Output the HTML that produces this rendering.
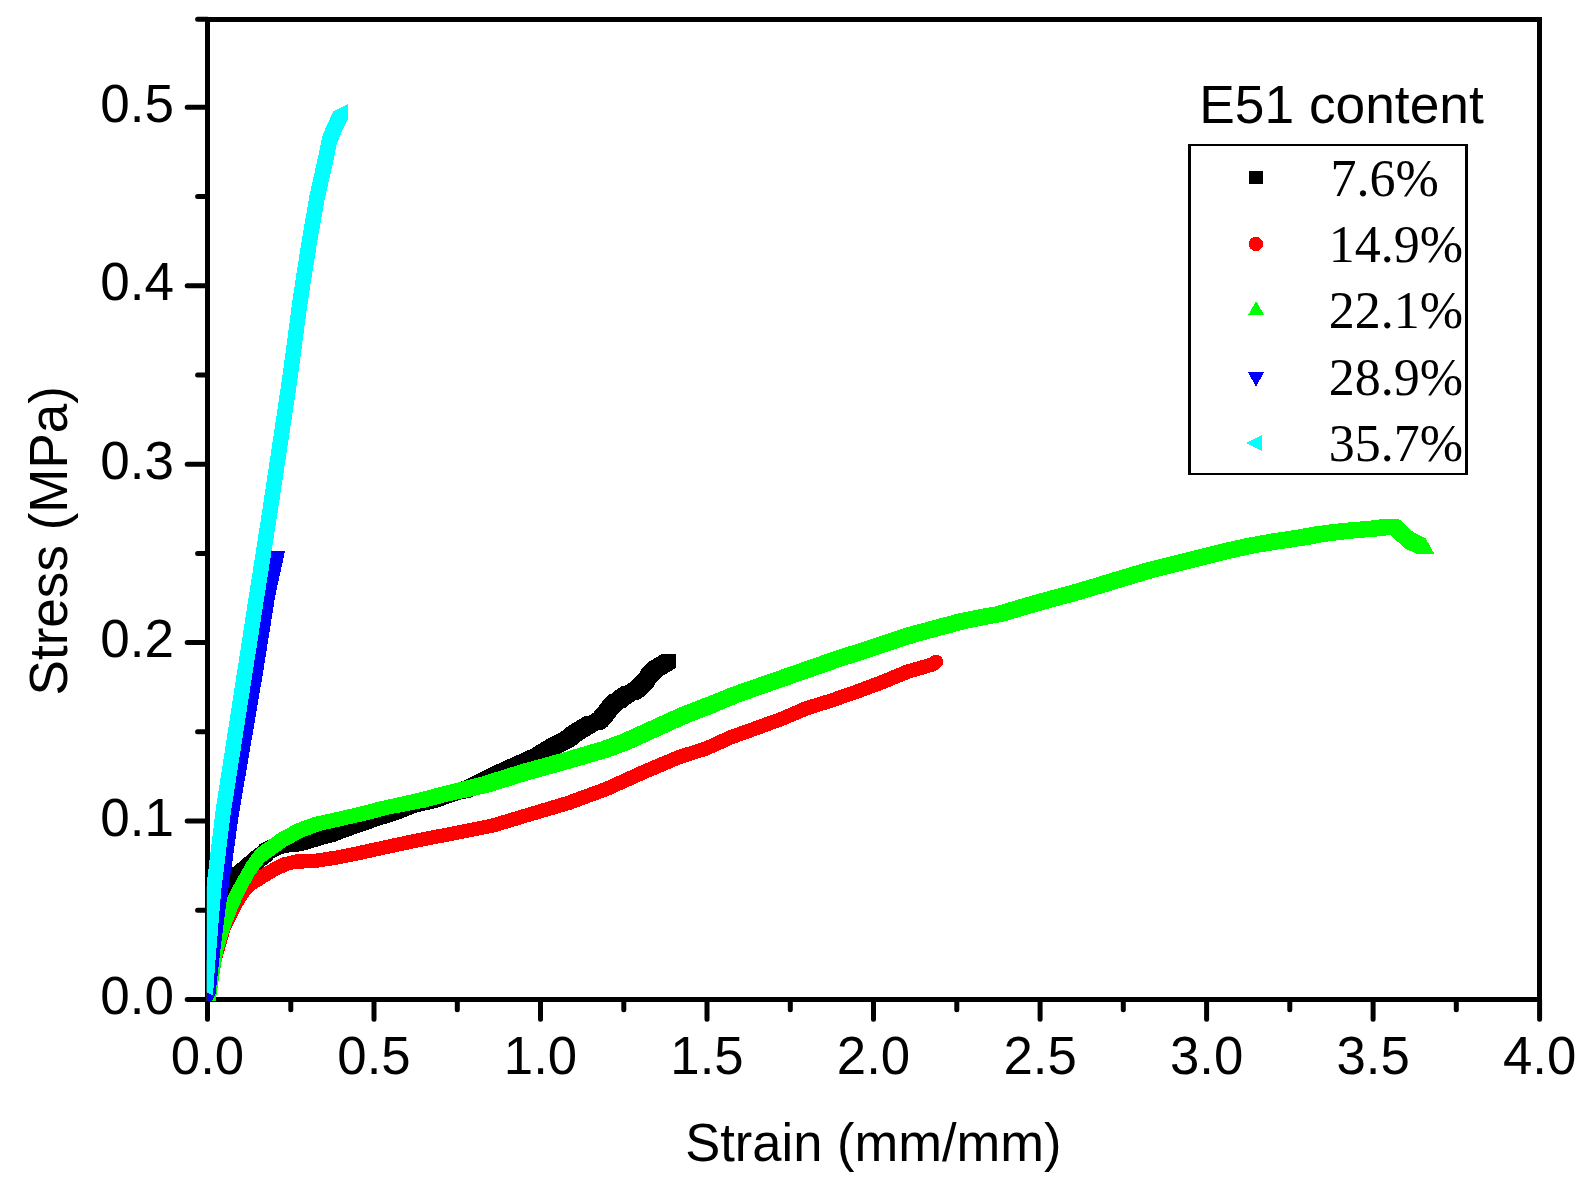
<!DOCTYPE html>
<html><head><meta charset="utf-8"><title>Stress-strain</title>
<style>html,body{margin:0;padding:0;background:#fff}svg{display:block}text{font-family:"Liberation Sans",Arial,sans-serif;font-size:52px;fill:#000}.s{font-family:"Liberation Serif","Times New Roman",serif}</style></head>
<body>
<svg width="1589" height="1192" viewBox="0 0 1589 1192">
<rect width="1589" height="1192" fill="#fff"/>
<g stroke="#000" stroke-width="5" fill="none" stroke-linecap="butt" shape-rendering="crispEdges">
<path d="M207.5,16.8 V1002.0 M1539.6,16.8 V1002.0 M207.5,19.3 H1539.6 M207.5,999.5 H1539.6"/>
</g>
<g stroke="#000" stroke-width="5" fill="none" stroke-linecap="round">
<path d="M207.5,999.5V1019.2M374.0,999.5V1019.2M540.5,999.5V1019.2M707.0,999.5V1019.2M873.5,999.5V1019.2M1040.1,999.5V1019.2M1206.6,999.5V1019.2M1373.1,999.5V1019.2M1539.6,999.5V1019.2M290.8,999.5V1009.8M457.3,999.5V1009.8M623.8,999.5V1009.8M790.3,999.5V1009.8M956.8,999.5V1009.8M1123.3,999.5V1009.8M1289.8,999.5V1009.8M1456.3,999.5V1009.8M207.5,999.5H187.2M207.5,821.1H187.2M207.5,642.6H187.2M207.5,464.2H187.2M207.5,285.7H187.2M207.5,107.3H187.2M207.5,910.3H197.6M207.5,731.8H197.6M207.5,553.4H197.6M207.5,375.0H197.6M207.5,196.5H197.6M207.5,19.3H197.6"/>
</g>
<g text-anchor="middle">
<text transform="translate(207.5,1074) scale(1.015,1.045)">0.0</text><text transform="translate(374.0,1074) scale(1.015,1.045)">0.5</text><text transform="translate(540.5,1074) scale(1.015,1.045)">1.0</text><text transform="translate(707.0,1074) scale(1.015,1.045)">1.5</text><text transform="translate(873.5,1074) scale(1.015,1.045)">2.0</text><text transform="translate(1040.1,1074) scale(1.015,1.045)">2.5</text><text transform="translate(1206.6,1074) scale(1.015,1.045)">3.0</text><text transform="translate(1373.1,1074) scale(1.015,1.045)">3.5</text><text transform="translate(1539.6,1074) scale(1.015,1.045)">4.0</text>
</g>
<g text-anchor="end">
<text transform="translate(174,1014.1) scale(1.02,1.045)">0.0</text><text transform="translate(174,835.7) scale(1.02,1.045)">0.1</text><text transform="translate(174,657.2) scale(1.02,1.045)">0.2</text><text transform="translate(174,478.8) scale(1.02,1.045)">0.3</text><text transform="translate(174,300.3) scale(1.02,1.045)">0.4</text><text transform="translate(174,121.9) scale(1.02,1.045)">0.5</text>
</g>
<text transform="translate(873.4,1161) scale(1.01,1.03)" text-anchor="middle">Strain (mm/mm)</text>
<text transform="translate(66.8,540.7) rotate(-90) scale(1.02,1.03)" text-anchor="middle">Stress (MPa)</text>
<defs><clipPath id="cp"><rect x="206.8" y="19" width="1333" height="982"/></clipPath></defs>
<g clip-path="url(#cp)" shape-rendering="crispEdges">
<path fill="#000" d="M200.5,992.5 205.0,953.0 219.0,953.0 219.0,967.0 214.5,1006.5 200.5,1006.5ZM205.0,953.0 211.0,918.0 225.0,918.0 225.0,932.0 219.0,967.0 205.0,967.0ZM211.0,918.0 217.0,896.0 231.0,896.0 231.0,910.0 225.0,932.0 211.0,932.0ZM217.0,896.0 223.0,881.0 237.0,881.0 237.0,895.0 231.0,910.0 217.0,910.0ZM223.0,881.0 227.0,873.0 241.0,873.0 241.0,887.0 237.0,895.0 223.0,895.0ZM227.0,873.0 232.3,867.6 246.3,867.6 246.3,881.6 241.0,887.0 227.0,887.0ZM232.3,867.6 237.4,863.6 251.4,863.6 251.4,877.6 246.3,881.6 232.3,881.6ZM237.4,863.6 245.3,856.8 259.3,856.8 259.3,870.8 251.4,877.6 237.4,877.6ZM245.3,856.8 253.2,850.0 267.2,850.0 267.2,864.0 259.3,870.8 245.3,870.8ZM253.2,850.0 257.8,846.6 271.8,846.6 271.8,860.6 267.2,864.0 253.2,864.0ZM257.8,846.6 259.6,844.0 273.6,844.0 273.6,858.0 271.8,860.6 257.8,860.6ZM259.6,844.0 271.0,838.9 285.0,838.9 285.0,852.9 273.6,858.0 259.6,858.0ZM271.0,838.9 288.0,837.2 302.0,837.2 302.0,851.2 285.0,852.9 271.0,852.9ZM288.0,837.2 299.3,833.8 313.3,833.8 313.3,847.8 302.0,851.2 288.0,851.2ZM299.3,833.8 310.6,830.4 324.6,830.4 324.6,844.4 313.3,847.8 299.3,847.8ZM310.6,830.4 321.9,827.5 335.9,827.5 335.9,841.5 324.6,844.4 310.6,844.4ZM321.9,827.5 333.3,823.0 347.3,823.0 347.3,837.0 335.9,841.5 321.9,841.5ZM333.3,823.0 344.6,819.0 358.6,819.0 358.6,833.0 347.3,837.0 333.3,837.0ZM344.6,819.0 355.9,815.1 369.9,815.1 369.9,829.1 358.6,833.0 344.6,833.0ZM355.9,815.1 366.0,811.5 380.0,811.5 380.0,825.5 369.9,829.1 355.9,829.1ZM366.0,811.5 384.9,805.7 398.9,805.7 398.9,819.7 380.0,825.5 366.0,825.5ZM384.9,805.7 403.8,798.2 417.8,798.2 417.8,812.2 398.9,819.7 384.9,819.7ZM403.8,798.2 422.6,794.0 436.6,794.0 436.6,808.0 417.8,812.2 403.8,812.2ZM422.6,794.0 445.3,785.9 459.3,785.9 459.3,799.9 436.6,808.0 422.6,808.0ZM445.3,785.9 457.4,783.5 471.4,783.5 471.4,797.5 459.3,799.9 445.3,799.9ZM457.4,783.5 493.3,765.9 507.3,765.9 507.3,779.9 471.4,797.5 457.4,797.5ZM493.3,765.9 531.0,748.9 545.0,748.9 545.0,762.9 507.3,779.9 493.3,779.9ZM531.0,748.9 546.0,739.6 560.0,739.6 560.0,753.6 545.0,762.9 531.0,762.9ZM546.0,739.6 560.0,732.6 574.0,732.6 574.0,746.6 560.0,753.6 546.0,753.6ZM560.0,732.6 568.5,725.8 582.5,725.8 582.5,739.8 574.0,746.6 560.0,746.6ZM568.5,725.8 584.2,716.3 598.2,716.3 598.2,730.3 582.5,739.8 568.5,739.8ZM584.2,716.3 588.0,716.2 602.0,716.2 602.0,730.2 598.2,730.3 584.2,730.3ZM588.0,716.2 593.2,712.9 607.2,712.9 607.2,726.9 602.0,730.2 588.0,730.2ZM593.2,712.9 597.8,707.6 611.8,707.6 611.8,721.6 607.2,726.9 593.2,726.9ZM597.8,707.6 602.3,701.6 616.3,701.6 616.3,715.6 611.8,721.6 597.8,721.6ZM602.3,701.6 605.3,698.6 619.3,698.6 619.3,712.6 616.3,715.6 602.3,715.6ZM605.3,698.6 608.7,694.6 622.7,694.6 622.7,708.6 619.3,712.6 605.3,712.6ZM608.7,694.6 611.4,693.7 625.4,693.7 625.4,707.7 622.7,708.6 608.7,708.6ZM611.4,693.7 616.6,689.5 630.6,689.5 630.6,703.5 625.4,707.7 611.4,707.7ZM616.6,689.5 621.0,686.5 635.0,686.5 635.0,700.5 630.6,703.5 616.6,703.5ZM621.0,686.5 627.0,684.8 641.0,684.8 641.0,698.8 635.0,700.5 621.0,700.5ZM627.0,684.8 632.1,680.3 646.1,680.3 646.1,694.3 641.0,698.8 627.0,698.8ZM632.1,680.3 636.2,676.2 650.2,676.2 650.2,690.2 646.1,694.3 632.1,694.3ZM636.2,676.2 640.0,672.0 654.0,672.0 654.0,686.0 650.2,690.2 636.2,690.2ZM640.0,672.0 642.0,668.2 656.0,668.2 656.0,682.2 654.0,686.0 640.0,686.0ZM642.0,668.2 647.0,663.0 661.0,663.0 661.0,677.0 656.0,682.2 642.0,682.2ZM647.0,663.0 662.1,653.8 676.1,653.8 676.1,667.8 661.0,677.0 647.0,677.0Z"/>
<path fill="#f00" d="M200.3,999.5 205.8,965.0 206.3,962.2 207.9,959.9 210.2,958.4 213.0,957.8 215.8,958.4 218.1,959.9 219.7,962.2 220.2,965.0 214.7,999.5 214.2,1002.3 212.6,1004.6 210.3,1006.1 207.5,1006.7 204.7,1006.1 202.4,1004.6 200.8,1002.3ZM205.8,965.0 206.3,962.2 217.3,923.7 218.9,921.4 221.2,919.9 224.0,919.3 226.8,919.9 229.1,921.4 230.7,923.7 231.2,926.5 230.7,929.3 219.7,967.8 218.1,970.1 215.8,971.6 213.0,972.2 210.2,971.6 207.9,970.1 206.3,967.8ZM216.8,926.5 217.3,923.7 222.2,914.5 223.7,912.2 226.0,910.6 228.8,910.1 231.6,910.6 233.9,912.2 235.4,914.5 236.0,917.3 235.4,920.1 230.7,929.3 229.1,931.6 226.8,933.1 224.0,933.7 221.2,933.1 218.9,931.6 217.3,929.3ZM221.6,917.3 222.2,914.5 226.7,905.3 228.2,903.0 230.5,901.5 233.3,900.9 236.1,901.5 238.4,903.0 239.9,905.3 240.5,908.1 239.9,910.9 235.4,920.1 233.9,922.4 231.6,924.0 228.8,924.5 226.0,924.0 223.7,922.4 222.2,920.1ZM226.1,908.1 226.7,905.3 231.4,897.0 233.0,894.7 235.3,893.1 238.1,892.6 240.9,893.1 243.2,894.7 244.8,897.0 245.3,899.8 244.8,902.6 239.9,910.9 238.4,913.2 236.1,914.8 233.3,915.3 230.5,914.8 228.2,913.2 226.7,910.9ZM230.9,899.8 231.4,897.0 236.1,889.5 237.6,887.2 239.9,885.6 242.7,885.1 245.5,885.6 247.8,887.2 249.3,889.5 249.9,892.3 249.3,895.1 244.8,902.6 243.2,904.9 240.9,906.5 238.1,907.0 235.3,906.5 233.0,904.9 231.4,902.6ZM235.5,892.3 236.1,889.5 237.6,887.2 244.1,879.9 246.4,878.4 249.2,877.8 252.0,878.4 254.3,879.9 255.8,882.2 256.4,885.0 255.8,887.8 254.3,890.1 247.8,897.4 245.5,899.0 242.7,899.5 239.9,899.0 237.6,897.4 236.1,895.1ZM242.0,885.0 242.6,882.2 244.1,879.9 246.4,878.4 260.6,869.1 263.4,868.6 266.2,869.1 268.5,870.7 270.1,873.0 270.6,875.8 270.1,878.6 268.5,880.9 266.2,882.5 252.0,891.6 249.2,892.2 246.4,891.6 244.1,890.1 242.6,887.8ZM256.2,875.8 256.8,873.0 258.3,870.7 260.6,869.1 270.8,863.2 273.6,862.7 276.4,863.2 278.7,864.8 280.2,867.1 280.8,869.9 280.2,872.7 278.7,875.0 276.4,876.5 266.2,882.5 263.4,883.0 260.6,882.5 258.3,880.9 256.8,878.6ZM266.4,869.9 266.9,867.1 268.5,864.8 270.8,863.2 282.2,857.5 285.0,857.0 287.8,857.5 290.1,859.1 291.6,861.4 292.2,864.2 291.6,867.0 290.1,869.3 287.8,870.9 276.4,876.5 273.6,877.1 270.8,876.5 268.5,875.0 266.9,872.7ZM277.8,864.2 278.4,861.4 279.9,859.1 282.2,857.5 293.5,854.9 296.3,854.3 299.1,854.9 301.4,856.4 302.9,858.7 303.5,861.5 302.9,864.3 301.4,866.6 299.1,868.1 287.8,870.9 285.0,871.4 282.2,870.9 279.9,869.3 278.4,867.0ZM289.1,861.5 289.6,858.7 291.2,856.4 293.5,854.9 296.3,854.3 313.3,853.9 316.1,854.5 318.4,856.0 319.9,858.3 320.5,861.1 319.9,863.9 318.4,866.2 316.1,867.8 313.3,868.3 296.3,868.7 293.5,868.1 291.2,866.6 289.6,864.3ZM306.1,861.1 306.6,858.3 308.2,856.0 310.5,854.5 313.3,853.9 335.9,850.5 338.7,851.0 341.0,852.6 342.6,854.9 343.1,857.7 342.6,860.5 341.0,862.8 338.7,864.4 335.9,864.9 313.3,868.3 310.5,867.8 308.2,866.2 306.6,863.9ZM328.7,857.7 329.2,854.9 330.8,852.6 333.1,851.0 335.9,850.5 358.6,846.0 361.4,846.5 363.7,848.1 365.2,850.4 365.8,853.2 365.2,856.0 363.7,858.3 361.4,859.9 358.6,860.4 335.9,864.9 333.1,864.4 330.8,862.8 329.2,860.5ZM351.4,853.2 351.9,850.4 353.5,848.1 355.8,846.5 377.2,841.8 380.0,841.2 382.8,841.8 385.1,843.3 386.6,845.6 387.2,848.4 386.6,851.2 385.1,853.5 382.8,855.0 361.4,859.9 358.6,860.4 355.8,859.9 353.5,858.3 351.9,856.0ZM372.8,848.4 373.4,845.6 374.9,843.3 377.2,841.8 415.0,833.6 417.8,833.1 420.6,833.6 422.9,835.2 424.4,837.5 425.0,840.3 424.4,843.1 422.9,845.4 420.6,847.0 382.8,855.0 380.0,855.6 377.2,855.0 374.9,853.5 373.4,851.2ZM410.6,840.3 411.1,837.5 412.7,835.2 415.0,833.6 417.8,833.1 455.5,825.8 458.3,826.4 460.6,827.9 462.1,830.2 462.7,833.0 462.1,835.8 460.6,838.1 458.3,839.6 455.5,840.2 417.8,847.5 415.0,847.0 412.7,845.4 411.1,843.1ZM448.3,833.0 448.9,830.2 450.4,827.9 452.7,826.4 490.5,818.8 493.3,818.2 496.1,818.8 498.4,820.3 499.9,822.6 500.5,825.4 499.9,828.2 498.4,830.5 496.1,832.0 458.3,839.6 455.5,840.2 452.7,839.6 450.4,838.1 448.9,835.8ZM486.1,825.4 486.6,822.6 488.2,820.3 490.5,818.8 528.2,807.4 531.0,806.8 533.8,807.4 536.1,808.9 537.6,811.2 538.2,814.0 537.6,816.8 536.1,819.1 533.8,820.6 496.1,832.0 493.3,832.6 490.5,832.0 488.2,830.5 486.6,828.2ZM523.8,814.0 524.4,811.2 525.9,808.9 528.2,807.4 566.0,796.1 568.8,795.6 571.6,796.1 573.9,797.7 575.5,800.0 576.0,802.8 575.5,805.6 573.9,807.9 571.6,809.5 533.8,820.6 531.0,821.2 528.2,820.6 525.9,819.1 524.4,816.8ZM561.6,802.8 562.1,800.0 563.7,797.7 566.0,796.1 603.8,782.2 606.6,781.7 609.4,782.2 611.7,783.8 613.2,786.1 613.8,788.9 613.2,791.7 611.7,794.0 609.4,795.5 571.6,809.5 568.8,810.0 566.0,809.5 563.7,807.9 562.1,805.6ZM599.4,788.9 600.0,786.1 601.5,783.8 603.8,782.2 641.5,765.1 644.3,764.6 647.1,765.1 649.4,766.7 651.0,769.0 651.5,771.8 651.0,774.6 649.4,776.9 647.1,778.5 609.4,795.5 606.6,796.1 603.8,795.5 601.5,794.0 600.0,791.7ZM637.1,771.8 637.6,769.0 639.2,766.7 641.5,765.1 677.2,750.0 680.0,749.5 682.8,750.0 685.1,751.6 686.6,753.9 687.2,756.7 686.6,759.5 685.1,761.8 682.8,763.4 647.1,778.5 644.3,779.0 641.5,778.5 639.2,776.9 637.6,774.6ZM672.8,756.7 673.4,753.9 674.9,751.6 677.2,750.0 703.1,742.0 705.9,741.4 708.7,742.0 711.0,743.5 712.5,745.8 713.1,748.6 712.5,751.4 711.0,753.7 708.7,755.2 682.8,763.4 680.0,763.9 677.2,763.4 674.9,761.8 673.4,759.5ZM698.7,748.6 699.2,745.8 700.8,743.5 703.1,742.0 728.2,730.5 731.0,730.0 733.8,730.5 736.1,732.1 737.6,734.4 738.2,737.2 737.6,740.0 736.1,742.3 733.8,743.9 708.7,755.2 705.9,755.8 703.1,755.2 700.8,753.7 699.2,751.4ZM723.8,737.2 724.4,734.4 725.9,732.1 728.2,730.5 753.4,721.5 756.2,720.9 759.0,721.5 761.3,723.0 762.9,725.3 763.4,728.1 762.9,730.9 761.3,733.2 759.0,734.8 733.8,743.9 731.0,744.4 728.2,743.9 725.9,742.3 724.4,740.0ZM749.0,728.1 749.5,725.3 751.1,723.0 753.4,721.5 778.6,712.4 781.4,711.8 784.2,712.4 786.5,713.9 788.0,716.2 788.6,719.0 788.0,721.8 786.5,724.1 784.2,725.6 759.0,734.8 756.2,735.3 753.4,734.8 751.1,733.2 749.5,730.9ZM774.2,719.0 774.8,716.2 776.3,713.9 778.6,712.4 803.8,701.5 806.6,701.0 809.4,701.5 811.7,703.1 813.2,705.4 813.8,708.2 813.2,711.0 811.7,713.3 809.4,714.9 784.2,725.6 781.4,726.2 778.6,725.6 776.3,724.1 774.8,721.8ZM799.4,708.2 800.0,705.4 801.5,703.1 803.8,701.5 828.9,693.8 831.7,693.2 834.5,693.8 836.8,695.3 838.4,697.6 838.9,700.4 838.4,703.2 836.8,705.5 834.5,707.0 809.4,714.9 806.6,715.4 803.8,714.9 801.5,713.3 800.0,711.0ZM824.5,700.4 825.0,697.6 826.6,695.3 828.9,693.8 854.1,685.0 856.9,684.4 859.7,685.0 862.0,686.5 863.5,688.8 864.1,691.6 863.5,694.4 862.0,696.7 859.7,698.2 834.5,707.0 831.7,707.6 828.9,707.0 826.6,705.5 825.0,703.2ZM849.7,691.6 850.2,688.8 851.8,686.5 854.1,685.0 879.3,675.5 882.1,675.0 884.9,675.5 887.2,677.1 888.8,679.4 889.3,682.2 888.8,685.0 887.2,687.3 884.9,688.9 859.7,698.2 856.9,698.8 854.1,698.2 851.8,696.7 850.2,694.4ZM874.9,682.2 875.5,679.4 877.0,677.1 879.3,675.5 904.4,665.1 907.2,664.6 910.0,665.1 912.3,666.7 913.9,669.0 914.4,671.8 913.9,674.6 912.3,676.9 910.0,678.5 884.9,688.9 882.1,689.4 879.3,688.9 877.0,687.3 875.5,685.0ZM900.0,671.8 900.5,669.0 902.1,666.7 904.4,665.1 929.6,657.9 932.4,657.3 935.2,657.9 937.5,659.4 939.0,661.7 939.6,664.5 939.0,667.3 937.5,669.6 935.2,671.1 910.0,678.5 907.2,679.0 904.4,678.5 902.1,676.9 900.5,674.6ZM925.2,664.5 925.8,661.7 927.3,659.4 930.9,656.8 933.2,655.2 936.0,654.7 938.8,655.2 941.1,656.8 942.6,659.1 943.2,661.9 942.6,664.7 941.1,667.0 937.5,669.6 935.2,671.1 932.4,671.7 929.6,671.1 927.3,669.6 925.8,667.3Z"/>
<path fill="#0f0" d="M199.8,1004.0 203.8,976.5 211.5,963.0 219.2,976.5 215.2,1004.0ZM203.8,976.5 208.0,950.2 215.7,936.7 223.4,950.2 219.2,976.5ZM208.0,950.2 216.1,925.0 223.8,911.5 231.5,925.0 223.4,950.2ZM216.1,925.0 222.0,909.6 229.7,896.1 237.4,909.6 231.5,925.0ZM222.0,909.6 227.6,897.1 235.3,883.6 243.0,897.1 237.4,909.6ZM227.6,897.1 233.3,885.8 241.0,872.3 248.7,885.8 243.0,897.1ZM233.3,885.8 239.0,875.6 246.7,862.1 254.4,875.6 248.7,885.8ZM239.0,875.6 246.7,862.1 252.3,854.2 260.0,867.7 254.4,875.6ZM244.6,867.7 252.3,854.2 256.6,848.9 264.3,862.4 260.0,867.7ZM248.9,862.4 256.6,848.9 268.0,840.4 275.7,853.9 264.3,862.4ZM260.3,853.9 268.0,840.4 279.3,832.5 287.0,846.0 275.7,853.9ZM271.6,846.0 279.3,832.5 296.3,823.4 304.0,836.9 287.0,846.0ZM288.6,836.9 296.3,823.4 313.3,817.2 321.0,830.7 304.0,836.9ZM305.6,830.7 313.3,817.2 335.9,812.1 343.6,825.6 321.0,830.7ZM328.2,825.6 335.9,812.1 358.6,807.0 366.3,820.5 343.6,825.6ZM350.9,820.5 358.6,807.0 380.0,801.3 387.7,814.8 366.3,820.5ZM372.3,814.8 380.0,801.3 417.8,792.9 426.1,807.4 387.7,814.8ZM409.6,807.4 417.8,792.9 440.0,787.0 448.2,801.5 426.1,807.4ZM431.8,801.5 440.0,787.0 480.3,776.9 489.2,792.6 448.2,801.5ZM471.4,792.6 480.3,776.9 520.6,764.3 529.5,780.0 489.2,792.6ZM511.7,780.0 520.6,764.3 560.8,753.2 569.7,768.9 529.5,780.0ZM551.9,768.9 560.8,753.2 600.0,741.7 608.9,757.4 569.7,768.9ZM591.1,757.4 600.0,741.7 620.4,734.2 629.3,749.9 608.9,757.4ZM611.5,749.9 620.4,734.2 680.0,707.2 688.9,722.9 629.3,749.9ZM671.1,722.9 680.0,707.2 705.9,697.2 714.8,712.9 688.9,722.9ZM697.0,712.9 705.9,697.2 731.0,687.1 739.7,702.3 714.8,712.9ZM722.3,702.3 731.0,687.1 756.2,678.3 764.9,693.5 739.7,702.3ZM747.5,693.5 756.2,678.3 781.4,669.5 790.1,684.7 764.9,693.5ZM772.7,684.7 781.4,669.5 806.6,660.7 815.3,675.9 790.1,684.7ZM797.9,675.9 806.6,660.7 831.7,651.9 840.4,667.1 815.3,675.9ZM823.0,667.1 831.7,651.9 856.9,643.8 865.6,659.0 840.4,667.1ZM848.2,659.0 856.9,643.8 882.1,635.5 890.8,650.7 865.6,659.0ZM873.4,650.7 882.1,635.5 907.2,627.2 915.9,642.4 890.8,650.7ZM898.5,642.4 907.2,627.2 932.4,620.4 941.1,635.6 915.9,642.4ZM923.7,635.6 932.4,620.4 957.6,613.6 966.3,628.8 941.1,635.6ZM948.9,628.8 957.6,613.6 980.0,609.1 988.7,624.3 966.3,628.8ZM971.3,624.3 980.0,609.1 995.2,606.4 1003.9,621.6 988.7,624.3ZM986.5,621.6 995.2,606.4 1020.3,598.9 1029.0,614.1 1003.9,621.6ZM1011.6,614.1 1020.3,598.9 1045.5,591.8 1054.2,607.0 1029.0,614.1ZM1036.8,607.0 1045.5,591.8 1070.7,585.0 1079.4,600.2 1054.2,607.0ZM1062.0,600.2 1070.7,585.0 1095.9,577.5 1104.6,592.7 1079.4,600.2ZM1087.2,592.7 1095.9,577.5 1121.0,569.9 1129.7,585.1 1104.6,592.7ZM1112.3,585.1 1121.0,569.9 1146.2,562.4 1154.9,577.6 1129.7,585.1ZM1137.5,577.6 1146.2,562.4 1171.4,556.1 1180.1,571.3 1154.9,577.6ZM1162.7,571.3 1171.4,556.1 1196.6,549.8 1205.3,565.0 1180.1,571.3ZM1187.9,565.0 1196.6,549.8 1221.7,543.5 1230.4,558.7 1205.3,565.0ZM1213.0,558.7 1221.7,543.5 1246.9,537.9 1255.6,553.1 1230.4,558.7ZM1238.2,553.1 1246.9,537.9 1272.1,533.4 1281.0,549.1 1255.6,553.1ZM1263.2,549.1 1272.1,533.4 1300.0,529.2 1308.9,544.9 1281.0,549.1ZM1291.1,544.9 1300.0,529.2 1312.6,526.7 1321.5,542.4 1308.9,544.9ZM1303.7,542.4 1312.6,526.7 1331.5,524.2 1340.4,539.9 1321.5,542.4ZM1322.6,539.9 1331.5,524.2 1350.3,522.3 1359.2,538.0 1340.4,539.9ZM1341.4,538.0 1350.3,522.3 1369.2,520.7 1378.1,536.4 1359.2,538.0ZM1360.3,536.4 1369.2,520.7 1384.3,518.9 1393.2,534.6 1378.1,536.4ZM1375.4,534.6 1384.3,518.9 1398.8,518.9 1407.7,534.6ZM1389.9,534.6 1398.8,518.9 1413.9,532.7 1422.8,548.4 1405.0,548.4ZM1405.0,548.4 1413.9,532.7 1425.5,538.2 1434.4,553.9 1416.6,553.9Z"/>
<path fill="#00f" d="M199.5,994.5 201.0,980.0 217.0,980.0 215.5,994.5 207.5,1009.5ZM201.0,980.0 205.0,945.0 221.0,945.0 217.0,980.0 209.0,995.0ZM205.0,945.0 210.0,905.0 226.0,905.0 221.0,945.0 213.0,960.0ZM210.0,905.0 216.5,860.8 232.5,860.8 226.0,905.0 218.0,920.0ZM216.5,860.8 222.7,815.5 238.7,815.5 232.5,860.8 224.5,875.8ZM222.7,815.5 234.8,744.7 250.8,744.7 238.7,815.5 230.7,830.5ZM234.8,744.7 247.3,671.0 263.3,671.0 250.8,744.7 242.8,759.7ZM247.3,671.0 259.3,595.5 275.3,595.5 263.3,671.0 255.3,686.0ZM259.3,595.5 269.0,551.2 285.0,551.2 275.3,595.5 267.3,610.5Z"/>
<path fill="#0ff" d="M198.5,988.0 200.6,957.2 215.1,949.7 215.1,964.7 213.0,995.5ZM200.6,957.2 206.7,883.5 221.2,876.0 221.2,891.0 215.1,964.7ZM206.7,883.5 215.9,808.0 230.4,800.5 230.4,815.5 221.2,891.0ZM215.9,808.0 226.8,738.0 241.3,730.5 241.3,745.5 230.4,815.5ZM226.8,738.0 237.2,671.0 251.7,663.5 251.7,678.5 241.3,745.5ZM237.2,671.0 248.9,595.5 263.4,588.0 263.4,603.0 251.7,678.5ZM248.9,595.5 260.8,520.0 275.3,512.5 275.3,527.5 263.4,603.0ZM260.8,520.0 271.2,451.0 285.7,443.5 285.7,458.5 275.3,527.5ZM271.2,451.0 282.5,375.5 297.0,368.0 297.0,383.0 285.7,458.5ZM282.5,375.5 292.5,300.0 307.0,292.5 307.0,307.5 297.0,383.0ZM292.5,300.0 297.2,268.8 311.7,261.3 311.7,276.3 307.0,307.5ZM297.2,268.8 303.3,231.0 317.8,223.5 317.8,238.5 311.7,276.3ZM303.3,231.0 309.9,193.3 324.4,185.8 324.4,200.8 317.8,238.5ZM309.9,193.3 318.4,155.5 332.9,148.0 332.9,163.0 324.4,200.8ZM318.4,155.5 322.2,136.6 336.7,129.1 336.7,144.1 332.9,163.0ZM322.2,136.6 326.0,127.2 340.5,119.7 340.5,134.7 336.7,144.1ZM326.0,127.2 333.3,111.4 347.8,103.9 347.8,118.9 340.5,134.7Z"/>
</g>
<text transform="translate(1199.3,122.6) scale(1.025,1.04)">E51 content</text>
<rect x="1189.5" y="144.6" width="277" height="329.6" fill="none" stroke="#000" stroke-width="2.2" shape-rendering="crispEdges"/>
<g shape-rendering="crispEdges"><rect x="1249" y="171" width="14" height="13" fill="#000"/><circle cx="1256" cy="244" r="7.2" fill="#f00"/><path d="M1256.2,301 L1264.2,315 H1248.2Z" fill="#0f0"/><path d="M1248,372 H1264 L1256,387Z" fill="#00f"/><path d="M1245.9,443 L1262.1,435 V451Z" fill="#0ff"/></g>
<g class="s">
<text class="s" x="1330.5" y="195.5">7.6%</text><text class="s" x="1328.7" y="261.9">14.9%</text><text class="s" x="1328.7" y="328.2">22.1%</text><text class="s" x="1328.7" y="394.6">28.9%</text><text class="s" x="1328.7" y="460.9">35.7%</text>
</g>
</svg>
</body></html>
